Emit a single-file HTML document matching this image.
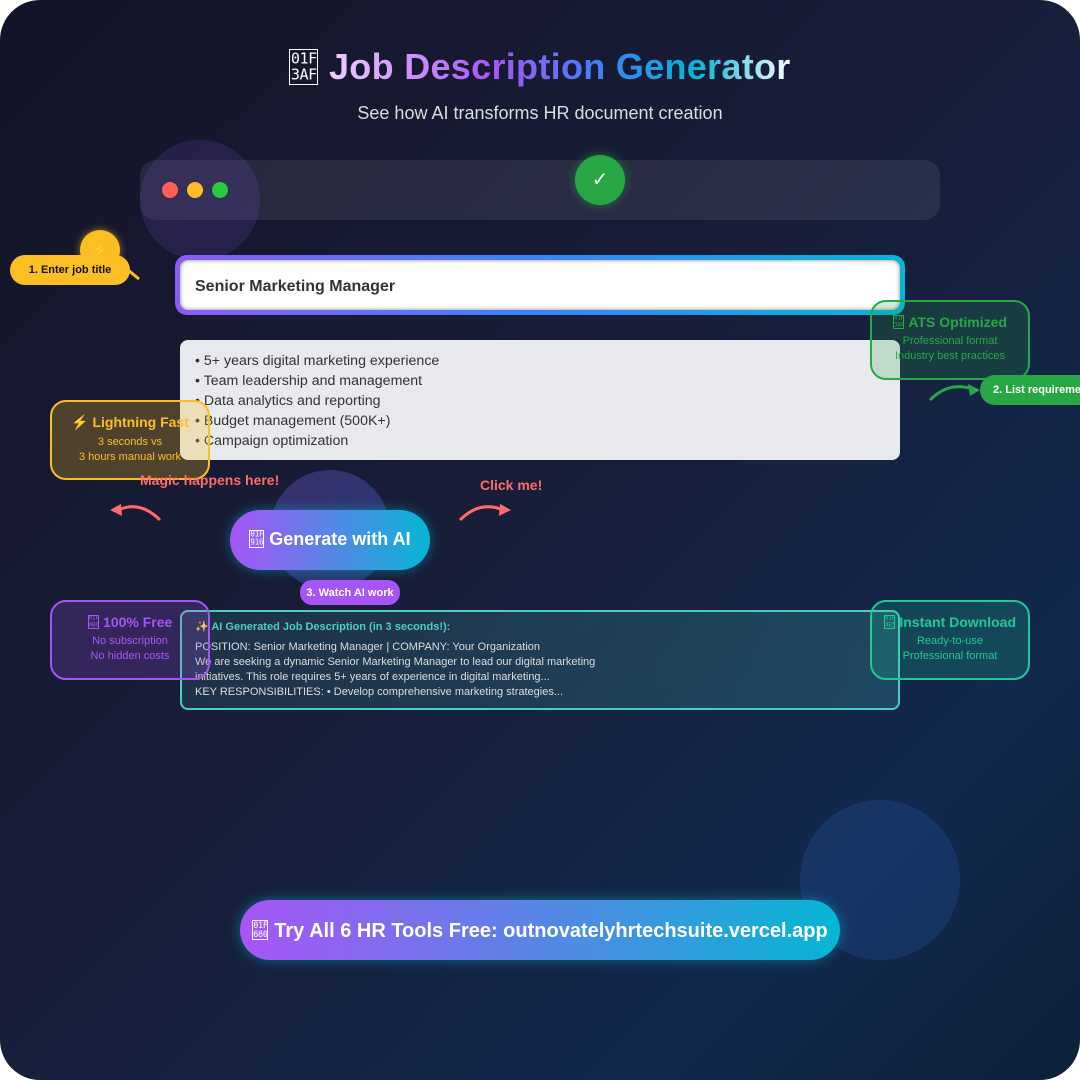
<!DOCTYPE html>
<html><head><meta charset="utf-8"><style>
*{margin:0;padding:0;box-sizing:border-box}
body{width:1080px;height:1080px;background:#fff;font-family:"Liberation Sans",sans-serif;overflow:hidden}
#c{position:absolute;left:0;top:0;width:1080px;height:1080px;border-radius:40px;overflow:hidden;background:linear-gradient(135deg,#131427 0%,#181d38 45%,#11294d 80%,#0e2038 100%)}
.a{position:absolute}
.t{white-space:nowrap}
.box{position:absolute;border-radius:16px;border:2px solid;text-align:center}
.box b{display:block;font-size:14px;margin-top:12px}
.box .s{display:block;font-size:11px;line-height:15px}
.tf{display:inline-block;vertical-align:middle;width:.8em;height:1em;border:1px solid currentColor;font-family:"DejaVu Sans Mono","Liberation Mono",monospace;font-weight:normal;font-size:1em;position:relative;top:-.08em;margin-right:.3em}
.tf i{position:absolute;left:0;right:0;top:50%;transform:translateY(-50%);font-style:normal;font-size:.42em;line-height:1.1;text-align:center;letter-spacing:-.03em}
</style></head><body><div id="c">
<div class="a" style="left:270px;top:470px;width:120px;height:120px;border-radius:50%;background:linear-gradient(135deg,rgba(139,92,246,0.3),rgba(59,130,246,0.3))"></div>
<div class="a" style="left:800px;top:800px;width:160px;height:160px;border-radius:50%;background:rgba(59,130,246,0.15)"></div>

<div class="a t" style="left:0;width:1080px;top:46px;text-align:center;font-size:36px;font-weight:bold;letter-spacing:.3px"><span class="tf" style="color:#fff"><i>01F<br>3AF</i></span><span style="background:linear-gradient(90deg,#f0d0ff 0%,#a855f7 35%,#3b82f6 60%,#06b6d4 80%,#ffffff 100%);-webkit-background-clip:text;background-clip:text;color:transparent">Job Description Generator</span></div>
<div class="a t" style="left:0;width:1080px;top:103px;text-align:center;font-size:18px;color:#ddd">See how AI transforms HR document creation</div>

<div class="a" style="left:140px;top:160px;width:800px;height:60px;border-radius:16px;background:rgba(255,255,255,0.08)"></div>
<div class="a" style="left:140px;top:140px;width:120px;height:120px;border-radius:50%;background:rgba(139,92,246,0.15)"></div>
<div class="a" style="left:162px;top:182px;width:16px;height:16px;border-radius:50%;background:#ff5f57"></div>
<div class="a" style="left:187px;top:182px;width:16px;height:16px;border-radius:50%;background:#febc2e"></div>
<div class="a" style="left:212px;top:182px;width:16px;height:16px;border-radius:50%;background:#28c840"></div>
<div class="a" style="left:575px;top:155px;width:50px;height:50px;border-radius:50%;background:#28a745;box-shadow:0 0 10px rgba(40,167,69,0.6);color:#fff;font-size:20px;text-align:center;line-height:50px">✓</div>

<div class="a" style="left:175px;top:255px;width:730px;height:60px;border-radius:12px;background:linear-gradient(90deg,#8b5cf6,#3b82f6,#06b6d4)"></div>
<div class="a" style="left:180px;top:260px;width:720px;height:50px;border-radius:8px;background:#fff;box-shadow:inset 0 0 4px rgba(0,0,0,0.5)"></div>
<div class="a t" style="left:195px;top:278px;font-size:16px;font-weight:bold;color:#333">Senior Marketing Manager</div>

<div class="a" style="left:180px;top:340px;width:720px;height:120px;border-radius:8px;background:#e8e9ec"></div>
<div class="a t" style="left:195px;top:351px;font-size:14.2px;line-height:20px;color:#333">• 5+ years digital marketing experience<br>• Team leadership and management<br>• Data analytics and reporting<br>• Budget management (500K+)<br>• Campaign optimization</div>

<div class="box" style="left:50px;top:400px;width:160px;height:80px;border-color:#fbbf24;background:rgba(251,191,36,0.25);color:#fbbf24"><b>⚡ Lightning Fast</b><span class="s" style="margin-top:4px">3 seconds vs</span><span class="s">3 hours manual work</span></div>
<div class="box" style="left:870px;top:300px;width:160px;height:80px;border-color:#28a745;background:rgba(40,167,69,0.2);color:#28a745"><b><span class="tf"><i>01F<br>3AF</i></span>ATS Optimized</b><span class="s" style="margin-top:4px">Professional format</span><span class="s">Industry best practices</span></div>

<div class="a" style="left:80px;top:230px;width:40px;height:40px;border-radius:50%;background:#fbbf24;box-shadow:0 0 8px rgba(251,191,36,0.6);color:#fff;text-align:center;line-height:40px;font-size:14px">⚡</div>
<div class="a t" style="left:10px;top:255px;width:120px;height:30px;border-radius:15px;background:#fbbf24;color:#111;font-size:11px;font-weight:bold;text-align:center;line-height:30px">1. Enter job title</div>
<svg class="a" style="left:0;top:0" width="1080" height="1080">
<line x1="128" y1="270" x2="139" y2="279" stroke="#fbbf24" stroke-width="3"/>
<path d="M930 400 Q950 380 975 390" stroke="#28a745" stroke-width="3" fill="none"/><polygon points="980,390 968,384 970,396" fill="#28a745"/>
<path d="M160 520 Q140 500 118 510" stroke="#ff6b6b" stroke-width="3" fill="none"/><polygon points="110,510 121,504 122,516" fill="#ff6b6b"/>
<path d="M460 520 Q480 500 503 510" stroke="#ff6b6b" stroke-width="3" fill="none"/><polygon points="511,510 500,504 499,516" fill="#ff6b6b"/>
</svg>
<div class="a t" style="left:980px;top:375px;width:120px;height:30px;border-radius:15px;background:#28a745;color:#fff;font-size:11px;font-weight:bold;line-height:30px;padding-left:13px">2. List requirements</div>

<div class="a t" style="left:140px;top:472px;font-size:14px;font-weight:bold;color:#ff6b6b">Magic happens here!</div>
<div class="a t" style="left:480px;top:477px;font-size:14px;font-weight:bold;color:#ff6b6b">Click me!</div>

<div class="a t" style="left:230px;top:510px;width:200px;height:60px;border-radius:30px;background:linear-gradient(90deg,#a855f7,#06b6d4);box-shadow:0 0 12px rgba(6,182,212,0.5);color:#fff;font-size:18px;font-weight:bold;text-align:center;line-height:58px"><span class="tf"><i>01F<br>916</i></span>Generate with AI</div>
<div class="a t" style="left:300px;top:580px;width:100px;height:25px;border-radius:12px;background:#a855f7;color:#fff;font-size:11px;font-weight:bold;text-align:center;line-height:26px">3. Watch AI work</div>

<div class="a" style="left:180px;top:610px;width:720px;height:100px;border-radius:8px;border:2px solid #4ecdc4;background:linear-gradient(90deg,rgba(78,205,196,0.12),rgba(78,205,196,0.2))"></div>
<div class="a t" style="left:195px;top:620px;font-size:11px;font-weight:bold;color:#4ecdc4">✨ AI Generated Job Description (in 3 seconds!):</div>
<div class="a t" style="left:195px;top:640px;font-size:11px;line-height:15px;color:#ddd">POSITION: Senior Marketing Manager | COMPANY: Your Organization<br>We are seeking a dynamic Senior Marketing Manager to lead our digital marketing<br>initiatives. This role requires 5+ years of experience in digital marketing...<br>KEY RESPONSIBILITIES: • Develop comprehensive marketing strategies...</div>

<div class="box" style="left:50px;top:600px;width:160px;height:80px;border-color:#a855f7;background:rgba(168,85,247,0.2);color:#a855f7"><b><span class="tf"><i>01F<br>4B0</i></span>100% Free</b><span class="s" style="margin-top:4px">No subscription</span><span class="s">No hidden costs</span></div>
<div class="box" style="left:870px;top:600px;width:160px;height:80px;border-color:#20c997;background:rgba(32,201,151,0.2);color:#20c997"><b><span class="tf"><i>01F<br>4E5</i></span>Instant Download</b><span class="s" style="margin-top:4px">Ready-to-use</span><span class="s">Professional format</span></div>

<div class="a t" style="left:240px;top:900px;width:600px;height:60px;border-radius:30px;background:linear-gradient(90deg,#a855f7,#06b6d4);box-shadow:0 0 12px rgba(6,182,212,0.5);color:#fff;font-size:20px;font-weight:bold;text-align:center;line-height:62px"><span class="tf"><i>01F<br>680</i></span>Try All 6 HR Tools Free: outnovatelyhrtechsuite.vercel.app</div>
</div></body></html>
